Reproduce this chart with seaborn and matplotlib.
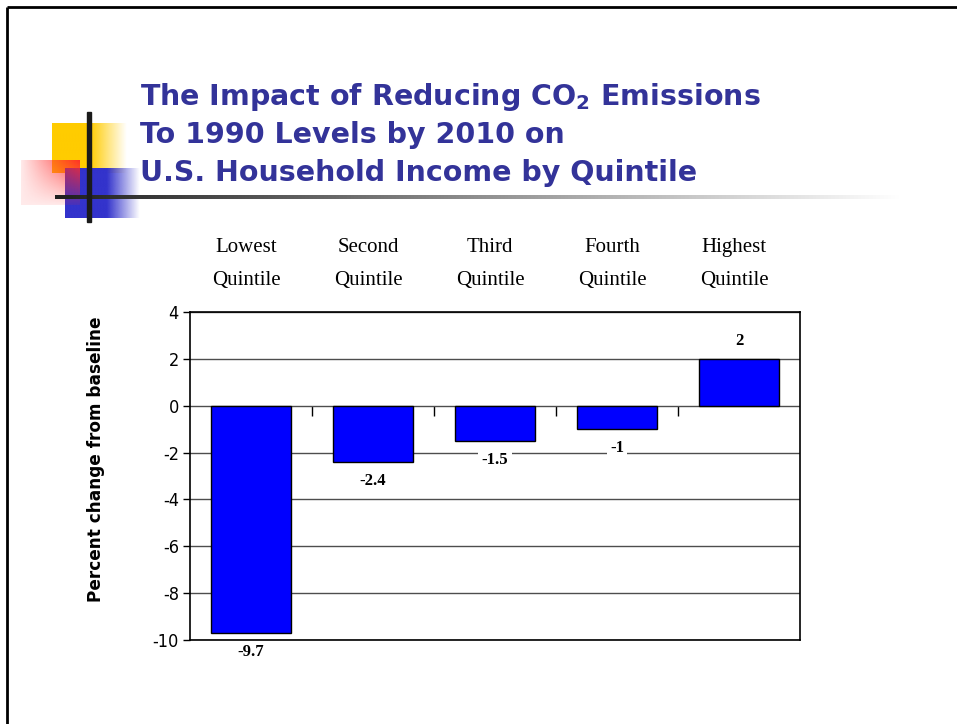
import numpy as np
import pandas as pd
import matplotlib
matplotlib.use("Agg")
import matplotlib.pyplot as plt
import matplotlib.transforms as mtransforms
import seaborn as sns

# ---- data ----
quintiles = ["Lowest\nQuintile", "Second\nQuintile", "Third\nQuintile",
             "Fourth\nQuintile", "Highest\nQuintile"]
pct_change = [-9.7, -2.4, -1.5, -1.0, 2.0]
y_ticks = [-10, -8, -6, -4, -2, 0, 2, 4]
title_lines = ["The Impact of Reducing CO$_\\mathbf{2}$ Emissions",
               "To 1990 Levels by 2010 on",
               "U.S. Household Income by Quintile"]

sns.set_theme(style="white")
plt.rcParams["font.family"] = ["DejaVu Sans"]
plt.rcParams["mathtext.fontset"] = "dejavusans"

W, H = 957, 724
fig = plt.figure(figsize=(W / 100, H / 100), dpi=100)
fig.patch.set_facecolor("white")

# ---- slide decoration layer (pixel coordinates) ----
deco = fig.add_axes([0, 0, 1, 1], zorder=0)
deco.set_xlim(0, W)
deco.set_ylim(H, 0)
deco.axis("off")


def hfade(color, x0, x_solid, x1, y0, y1, z):
    n = 200
    xs = np.linspace(x0, x1, n)
    a = np.clip((x1 - xs) / (x1 - x_solid), 0, 1)
    img = np.zeros((2, n, 4))
    img[..., :3] = matplotlib.colors.to_rgb(color)
    img[..., 3] = a
    deco.imshow(img, extent=(x0, x1, y1, y0), aspect="auto",
                interpolation="bilinear", zorder=z)


# yellow and blue squares fading to the right
hfade("#FFCC00", 52, 90, 127, 123, 173, 1)
hfade("#3333CC", 65, 107, 140, 168, 218, 2)

# red square, strongest at its top-right corner
nx, ny = 120, 90
u = np.linspace(0, 1, nx)[None, :]
v = np.linspace(0, 1, ny)[:, None]
red = np.zeros((ny, nx, 4))
red[..., :3] = matplotlib.colors.to_rgb("#FF2A2A")
red[..., 3] = 0.10 + 0.85 * (u * (1 - v)) ** 1.0
deco.imshow(red, extent=(21, 80, 205, 160), aspect="auto",
            interpolation="bilinear", zorder=3)

# horizontal rule fading from black to white
n = 400
g = np.linspace(0.12, 1.0, n)
rule = np.zeros((1, n, 3))
rule[..., 0] = g
rule[..., 1] = g
rule[..., 2] = g
deco.imshow(rule, extent=(55, 900, 199, 195), aspect="auto",
            interpolation="bilinear", zorder=4)
# vertical rule
deco.add_patch(plt.Rectangle((87, 112), 4, 110, color="#1a1a1a", zorder=5))

# slide frame
deco.plot([7, W], [7, 7], color="black", lw=2, zorder=6, solid_capstyle="butt")
deco.plot([7, 7], [7, H], color="black", lw=2, zorder=6, solid_capstyle="butt")

# title
for i, line in enumerate(title_lines):
    deco.text(140, 105 + 38 * i, line, color="#333399", fontsize=20.5,
              fontweight="bold", ha="left", va="baseline", zorder=7)

# ---- chart ----
ax_l, ax_r, ax_t, ax_b = 190, 800, 312, 640
ax = fig.add_axes([ax_l / W, (H - ax_b) / H, (ax_r - ax_l) / W, (ax_b - ax_t) / H],
                  zorder=2)
ax.set_facecolor("white")

df = pd.DataFrame({"quintile": quintiles, "change": pct_change})
sns.barplot(data=df, x="quintile", y="change", color="#0000FF", saturation=1,
            edgecolor="black", linewidth=1, width=0.66, ax=ax, zorder=3)

ax.set_ylim(-10, 4)
ax.set_xlim(-0.5, len(quintiles) - 0.5)
ax.set_yticks(y_ticks)
ax.set_yticklabels([str(t) for t in y_ticks])
for lbl in ax.get_yticklabels():
    lbl.set_fontfamily(["Liberation Sans Narrow", "DejaVu Sans"])
    lbl.set_fontstretch("condensed")
    lbl.set_fontsize(13)
    lbl.set_color("black")
ax.tick_params(axis="y", direction="out", length=5, width=1, color="black",
               left=True, pad=3)
ax.yaxis.grid(True, color="#4d4d4d", lw=1)
ax.set_axisbelow(True)
for s in ax.spines.values():
    s.set_visible(True)
    s.set_color("black")
    s.set_linewidth(1.2)

# category names above the plot
ax.xaxis.tick_top()
ax.tick_params(axis="x", length=0, pad=16)
shift = mtransforms.ScaledTranslation(-5 / 100, 0, fig.dpi_scale_trans)
for lbl in ax.get_xticklabels():
    lbl.set_fontfamily("Liberation Serif")
    lbl.set_fontsize(15)
    lbl.set_linespacing(1.95)
    lbl.set_color("black")
    lbl.set_transform(lbl.get_transform() + shift)
ax.set_xlabel("")

# category axis crossing at zero with small boundary ticks
sec = ax.secondary_xaxis(0, transform=ax.transData)
sec.set_xticks([i + 0.5 for i in range(len(quintiles) - 1)])
sec.set_xticklabels([])
sec.tick_params(axis="x", direction="out", length=7, width=1, color="black",
                bottom=True)
sec.spines["bottom"].set_visible(False)

ax.set_ylabel("Percent change from baseline", fontsize=12.2, fontweight="bold",
              color="black")
ax.yaxis.set_label_coords(-0.139, 0.552)

# value labels
for i, val in enumerate(pct_change):
    off = -19 if val < 0 else 18
    ax.annotate(f"{val:g}", xy=(i, val), xytext=(0, off), textcoords="offset pixels",
                ha="center", va="center", fontsize=12, fontweight="bold",
                fontfamily="Liberation Serif", color="black", zorder=5,
                bbox=dict(boxstyle="square,pad=0.2", fc="white", ec="none"))

fig.savefig("out.png", dpi=100, facecolor="white")
